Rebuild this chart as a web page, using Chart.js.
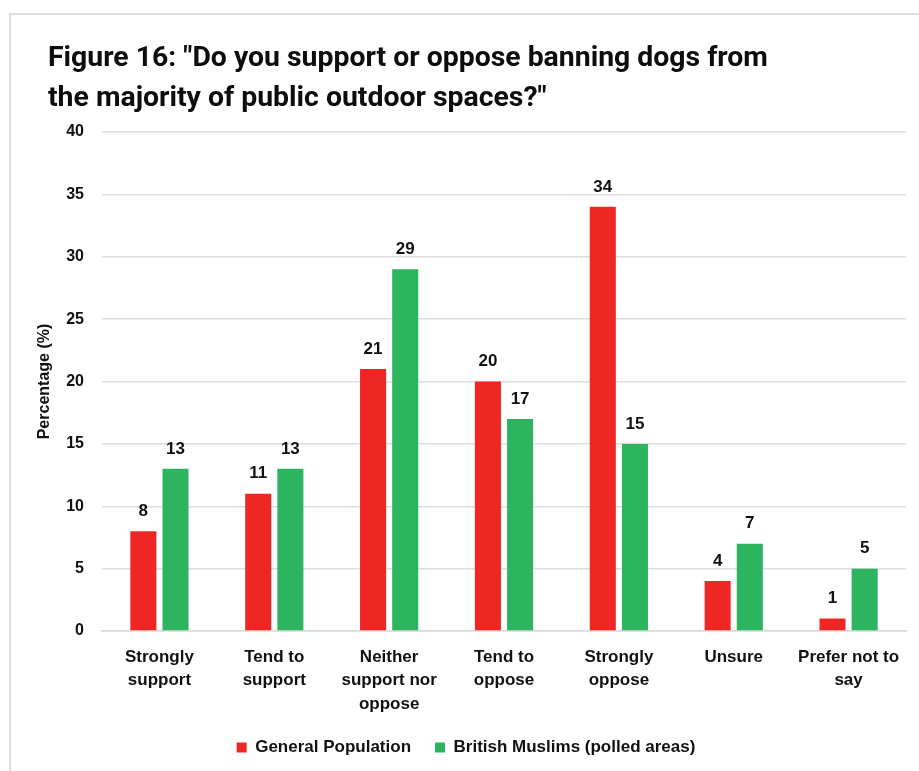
<!DOCTYPE html>
<html>
<head>
<meta charset="utf-8">
<script src="https://cdn.jsdelivr.net/npm/chart.js@4.4.1/dist/chart.umd.min.js"></script>
<style>
  html, body { margin: 0; padding: 0; background: #fff; }
  #wrap { position: relative; width: 919px; height: 771px; overflow: hidden; }
  #frame { position: absolute; left: 9px; top: 13px; right: -10px; bottom: -10px;
           border-top: 2px solid #dcdcdc; border-left: 2px solid #dcdcdc; }
  #title { position: absolute; left: 48px; top: 37px; margin: 0;
           font-family: "Roboto", "Liberation Sans", sans-serif;
           font-weight: bold; font-size: 28.4px; line-height: 40px; color: #0d0d0d; }
  canvas { position: absolute; left: 0; top: 0; }
</style>
</head>
<body>
<div id="wrap">
  <div id="frame"></div>
  <canvas id="chart" width="919" height="771"></canvas>
  <h1 id="title">Figure 16: "Do you support or oppose banning dogs from<br>the majority of public outdoor spaces?"</h1>
</div>
<script>
// Survey answers and the share (%) of each group giving them
const categories = [
  ['Strongly', 'support'],
  ['Tend to', 'support'],
  ['Neither', 'support nor', 'oppose'],
  ['Tend to', 'oppose'],
  ['Strongly', 'oppose'],
  ['Unsure'],
  ['Prefer not to', 'say']
];
const generalPopulation = [8, 11, 21, 20, 34, 4, 1];
const britishMuslims = [13, 13, 29, 17, 15, 7, 5];
const seriesNames = ['General Population', 'British Muslims (polled areas)'];
const yTicks = [0, 5, 10, 15, 20, 25, 30, 35, 40];

const FONT = '"Liberation Sans", Arial, sans-serif';

// Writes each bar's value just above it
const valueLabels = {
  id: 'valueLabels',
  afterDatasetsDraw(chart) {
    const ctx = chart.ctx;
    ctx.save();
    ctx.font = 'bold 17px ' + FONT;
    ctx.fillStyle = '#111';
    ctx.textAlign = 'center';
    ctx.textBaseline = 'middle';
    chart.data.datasets.forEach((ds, i) => {
      chart.getDatasetMeta(i).data.forEach((bar, j) => {
        ctx.fillText(String(ds.data[j]), bar.x, bar.y - 20);
      });
    });
    ctx.restore();
  }
};

new Chart(document.getElementById('chart'), {
  type: 'bar',
  data: {
    labels: categories,
    datasets: [
      { label: seriesNames[0], data: generalPopulation, backgroundColor: '#ee2724' },
      { label: seriesNames[1], data: britishMuslims, backgroundColor: '#2db45f' }
    ]
  },
  options: {
    responsive: false,
    animation: false,
    devicePixelRatio: 1,
    layout: { padding: { left: 26, right: 13, top: 132, bottom: 16 } },
    datasets: { bar: { categoryPercentage: 0.56, barPercentage: 0.81 } },
    scales: {
      x: {
        grid: { display: false, drawTicks: false },
        border: { display: true, color: '#d9d9d9', width: 1.5 },
        ticks: {
          color: '#111',
          padding: 14,
          maxRotation: 0,
          autoSkip: false,
          font: { family: FONT, size: 17, weight: 'bold', lineHeight: 1.39 }
        },
        afterFit(scale) { scale.height = 84; }
      },
      y: {
        min: 0,
        max: 40,
        afterBuildTicks(scale) { scale.ticks = yTicks.map(v => ({ value: v })); },
        grid: { color: '#dcdcdc', lineWidth: 1.5, drawTicks: false },
        border: { display: false },
        ticks: {
          color: '#111',
          padding: 18,
          font: { family: FONT, size: 16, weight: 'bold' }
        },
        title: {
          display: true,
          text: 'Percentage (%)',
          color: '#111',
          padding: { top: 9, bottom: 0 },
          font: { family: FONT, size: 16, weight: 'bold' }
        },
        afterFit(scale) { scale.width = 76; }
      }
    },
    plugins: {
      legend: {
        position: 'bottom',
        maxHeight: 40,
        labels: {
          boxWidth: 10,
          boxHeight: 10,
          padding: 24,
          color: '#111',
          font: { family: FONT, size: 17, weight: 'bold' }
        }
      },
      tooltip: { enabled: false }
    }
  },
  plugins: [valueLabels]
});
</script>
</body>
</html>
